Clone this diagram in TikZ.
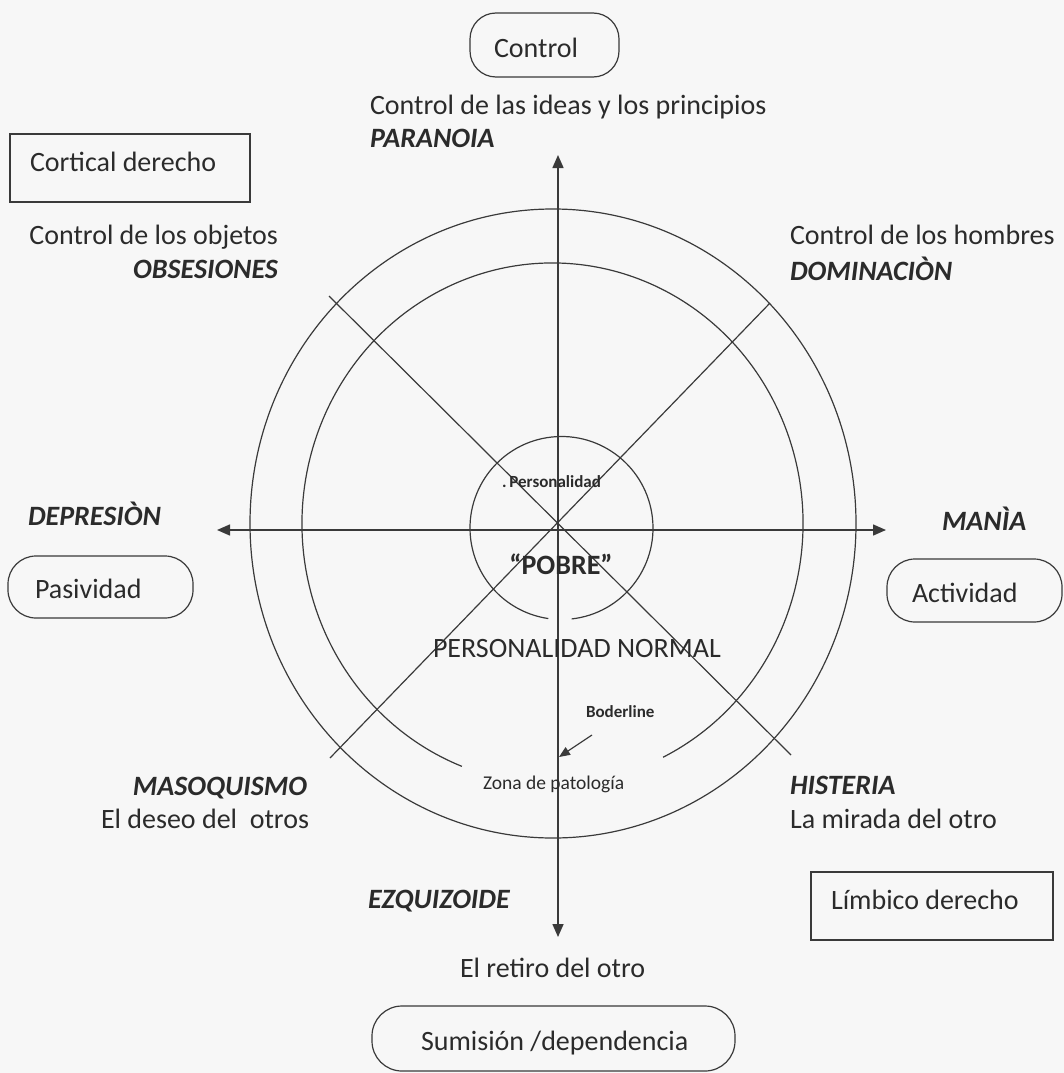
\documentclass[tikz,border=0pt]{standalone}
\usepackage{fontspec}
\setmainfont{Carlito}
\usetikzlibrary{arrows.meta}
\definecolor{ink}{HTML}{2B2B2B}
\definecolor{lineink}{HTML}{3A3A3A}
\definecolor{bg}{HTML}{F7F7F7}
\begin{document}
\begin{tikzpicture}[x=1pt,y=-1pt,
  every node/.style={inner sep=0pt, outer sep=0pt, text=ink},
  lbl/.style={font=\fontsize{28}{34}\selectfont},
  lblbi/.style={font=\fontsize{28}{34}\selectfont\bfseries\itshape},
  lblb/.style={font=\fontsize{28}{34}\selectfont\bfseries},
  smallb/.style={font=\fontsize{17}{20}\selectfont\bfseries},
  smallr/.style={font=\fontsize{19.5}{22}\selectfont},
  ln/.style={draw=lineink, line width=1.2pt},
  axis/.style={draw=lineink, line width=1.5pt, {Triangle[length=13pt,width=11pt]}-{Triangle[length=13pt,width=11pt]}},
  pill/.style={draw=lineink, line width=1.2pt, rounded corners=26pt},
  boxr/.style={draw=lineink, line width=1.1pt},
]
\fill[bg] (0,0) rectangle (1064,1073);
\useasboundingbox (0,0) rectangle (1064,1073);

% ---------- circles ----------
\draw[ln] (553,523.5) ellipse [x radius=303pt, y radius=314.5pt];
\draw[ln] ([shift={(-63.8:250.5pt and 260.5pt)}]552.5,523.5)
   arc[start angle=-63.8, end angle=248.8, x radius=250.5pt, y radius=260.5pt];
\draw[ln] ([shift={(-83.6:91.5pt)}]561.5,528)
   arc[start angle=-83.6, end angle=261.7, radius=91.5pt];

% ---------- diagonals ----------
\coordinate (dTL) at (329,296);
\coordinate (dBR) at (791,755);
\coordinate (dTR) at (770,303);
\coordinate (dBL) at (330,758);
\draw[ln] (dTL) -- (dBR);
\draw[ln] (dTR) -- (dBL);

% ---------- axes ----------
\coordinate (axN) at (558,155);
\coordinate (axS) at (558,937);
\coordinate (axW) at (217,530);
\coordinate (axE) at (886,530);
\draw[axis] (axN) -- (axS);
\draw[axis] (axW) -- (axE);

% ---------- boxes ----------
\node[pill, minimum width=149pt, minimum height=64pt] (bControl) at (544.5,45) {};
\node[lbl, anchor=base west] (tControl) at (494,58) {Control};

\node[boxr, minimum width=240pt, minimum height=68pt] (bCortical) at (130,168) {};
\node[lbl, anchor=base west] (tCortical) at (30,171) {Cortical derecho};

\node[pill, rounded corners=28pt, minimum width=185pt, minimum height=62pt] (bPasiv) at (100.5,587) {};
\node[lbl, anchor=base west] (tPasiv) at (35,598) {Pasividad};

\node[pill, rounded corners=28pt, minimum width=175pt, minimum height=63pt] (bActiv) at (974.5,590.5) {};
\node[lbl, anchor=base west] (tActiv) at (912,602) {Actividad};

\node[boxr, minimum width=242pt, minimum height=68pt] (bLimbico) at (932,906) {};
\node[lbl, anchor=base west] (tLimbico) at (831,909) {Límbico derecho};

\node[pill, rounded corners=30pt, minimum width=363pt, minimum height=65pt] (bSumision) at (553.5,1038.5) {};
\node[lbl, anchor=base west] (tSumision) at (421,1050) {Sumisión /dependencia};

% ---------- labels ----------
\node[lbl, anchor=base west] (tIdeas) at (370,114) {Control de las ideas y los principios};
\node[lblbi, anchor=base west] (tParanoia) at (370,147) {PARANOIA};

\node[lbl, anchor=base east] (tObjetos) at (278,244) {Control de los objetos};
\node[lblbi, anchor=base east] (tObses) at (278,278) {OBSESIONES};

\node[lbl, anchor=base west] (tHombres) at (790,244) {Control de los hombres};
\node[lblbi, anchor=base west] (tDomin) at (790,280) {DOMINACIÒN};

\node[lblbi, anchor=base west] (tDepres) at (28,525) {DEPRESIÒN};
\node[lblbi, anchor=base west] (tMania) at (942,530) {MANÌA};

\node[smallb, anchor=base west] (tPers) at (502,487) {.\,Personalidad};
\node[lblb, anchor=base] (tPobre) at (561,574) {“POBRE"};
\node[lbl, anchor=base west] (tNormal) at (433,657) {PERSONALIDAD NORMAL};

\node[smallb, anchor=base west] (tBoder) at (586,717) {Boderline};
\coordinate (bArrS) at (592,735);
\coordinate (bArrE) at (559,757);
\draw[ln, -{Triangle[length=11pt,width=9pt]}] (bArrS) -- (bArrE);
\node[smallr, anchor=base west] (tZona) at (483,789) {Zona de patología};

\node[lblbi, anchor=base east] (tMaso) at (307,795) {MASOQUISMO};
\node[lbl, anchor=base east] (tDeseo) at (309,828) {El deseo del~~otros};

\node[lblbi, anchor=base west] (tHist) at (790,794) {HISTERIA};
\node[lbl, anchor=base west] (tMirada) at (790,828) {La mirada del otro};

\node[lblbi, anchor=base west] (tEzq) at (368,908) {EZQUIZOIDE};
\node[lbl, anchor=base west] (tRetiro) at (460,977) {El retiro del otro};
\end{tikzpicture}
\end{document}
